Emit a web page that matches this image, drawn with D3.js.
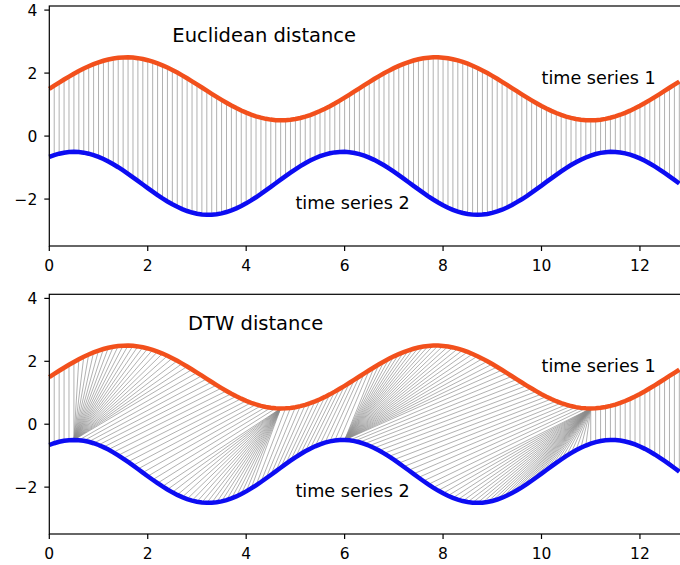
<!DOCTYPE html>
<html>
<head>
<meta charset="utf-8">
<script src="https://cdn.jsdelivr.net/npm/d3@7"></script>
<style>
  body { margin: 0; background: #fff; }
  svg { display: block; font-family: 'DejaVu Sans', sans-serif; }
</style>
</head>
<body>
<svg id="chart" width="680" height="565"></svg>
<script>
// sample positions 0 .. 12.8, step 0.1
const xs = d3.range(129).map(i => +(i / 10).toFixed(1))

const series1 = [
  1.500, 1.600, 1.699, 1.796, 1.889, 1.979, 2.065, 2.144, 2.217, 2.283,
  2.341, 2.391, 2.432, 2.464, 2.485, 2.497, 2.500, 2.492, 2.474, 2.446,
  2.409, 2.363, 2.308, 2.246, 2.176, 2.099, 2.016, 1.927, 1.835, 1.739,
  1.641, 1.542, 1.442, 1.342, 1.244, 1.149, 1.058, 0.970, 0.888, 0.812,
  0.743, 0.682, 0.628, 0.584, 0.548, 0.523, 0.506, 0.500, 0.504, 0.518,
  0.541, 0.574, 0.617, 0.668, 0.727, 0.795, 0.869, 0.949, 1.035, 1.126,
  1.221, 1.318, 1.417, 1.517, 1.617, 1.715, 1.812, 1.905, 1.994, 2.078,
  2.157, 2.229, 2.294, 2.350, 2.399, 2.438, 2.468, 2.488, 2.499, 2.499,
  2.489, 2.470, 2.441, 2.402, 2.355, 2.299, 2.234, 2.163, 2.085, 2.001,
  1.912, 1.819, 1.723, 1.625, 1.525, 1.425, 1.326, 1.228, 1.134, 1.043,
  0.956, 0.875, 0.800, 0.732, 0.672, 0.620, 0.577, 0.543, 0.519, 0.505,
  0.500, 0.505, 0.521, 0.546, 0.581, 0.625, 0.677, 0.738, 0.807, 0.882,
  0.963, 1.050, 1.142, 1.237, 1.334, 1.434, 1.534, 1.633, 1.732
]

const series2 = [
  -0.661, -0.604, -0.559, -0.527, -0.507, -0.500, -0.507, -0.526, -0.559, -0.604,
  -0.660, -0.728, -0.806, -0.894, -0.989, -1.091, -1.198, -1.310, -1.424, -1.538,
  -1.653, -1.765, -1.874, -1.978, -2.076, -2.166, -2.247, -2.318, -2.379, -2.428,
  -2.464, -2.488, -2.499, -2.497, -2.482, -2.453, -2.412, -2.359, -2.295, -2.220,
  -2.135, -2.042, -1.942, -1.837, -1.726, -1.613, -1.498, -1.384, -1.270, -1.160,
  -1.055, -0.955, -0.862, -0.778, -0.703, -0.639, -0.587, -0.546, -0.518, -0.503,
  -0.501, -0.512, -0.537, -0.574, -0.623, -0.684, -0.755, -0.837, -0.927, -1.025,
  -1.129, -1.238, -1.351, -1.465, -1.580, -1.694, -1.805, -1.913, -2.014, -2.109,
  -2.196, -2.274, -2.342, -2.398, -2.443, -2.475, -2.494, -2.500, -2.493, -2.473,
  -2.440, -2.394, -2.337, -2.268, -2.190, -2.098, -2.007, -1.905, -1.797, -1.685,
  -1.571, -1.456, -1.342, -1.230, -1.121, -1.017, -0.920, -0.830, -0.750, -0.679,
  -0.619, -0.570, -0.534, -0.511, -0.501, -0.503, -0.520, -0.549, -0.590, -0.644,
  -0.709, -0.784, -0.869, -0.962, -1.062, -1.168, -1.279, -1.392, -1.507
]

const xTicks = [0, 2, 4, 6, 8, 10, 12]
const yTicks = [-2, 0, 2, 4]

const panels = [
  { title: 'Euclidean distance', titleAt: [2.5, 3.0], mode: 'euclid', top: 6, bottom: 246 },
  { title: 'DTW distance', titleAt: [2.82, 3.0], mode: 'dtw', top: 294.3, bottom: 534 }
]
const label1At = [10, 1.66]
const label2At = [5, -2.32]

const svg = d3.select('#chart')
const left = 49.3
const x = d3.scaleLinear().domain([0, 12.9]).range([left, left + 12.9 * 49.22])

// classic DTW (squared differences) on the plotted values, returns index pairs
function dtwPath (a, b) {
  const n = a.length
  const m = b.length
  const D = []
  for (let i = 0; i < n; i++) {
    D.push(new Float64Array(m).fill(Infinity))
  }
  for (let i = 0; i < n; i++) {
    for (let j = 0; j < m; j++) {
      const c = Math.pow(a[i] - b[j], 2)
      if (i === 0 && j === 0) D[i][j] = c
      else {
        let best = Infinity
        if (i > 0) best = Math.min(best, D[i - 1][j])
        if (j > 0) best = Math.min(best, D[i][j - 1])
        if (i > 0 && j > 0) best = Math.min(best, D[i - 1][j - 1])
        D[i][j] = c + best
      }
    }
  }
  const path = [[n - 1, m - 1]]
  let i = n - 1
  let j = m - 1
  while (i > 0 || j > 0) {
    if (i === 0) j--
    else if (j === 0) i--
    else {
      const d = D[i - 1][j - 1]
      const u = D[i - 1][j]
      const l = D[i][j - 1]
      if (d <= u && d <= l) { i--; j-- } else if (u <= l) i--
      else j--
    }
    path.push([i, j])
  }
  return path.reverse()
}

panels.forEach(p => {
  const y = d3.scaleLinear().domain([-3.49, 4.13]).range([p.bottom, p.top])
  const g = svg.append('g')

  let pairs
  if (p.mode === 'euclid') pairs = xs.map((d, i) => [i, i])
  else pairs = dtwPath(series1, series2)

  g.append('g')
    .selectAll('line')
    .data(pairs)
    .enter()
    .append('line')
    .attr('x1', d => x(xs[d[0]]))
    .attr('y1', d => y(series1[d[0]]))
    .attr('x2', d => x(xs[d[1]]))
    .attr('y2', d => y(series2[d[1]]))
    .attr('stroke', '#8a8a8a')
    .attr('stroke-opacity', 0.75)
    .attr('stroke-width', 0.9)

  const line = d3.line().x((d, i) => x(xs[i])).y(d => y(d))
  g.append('path')
    .attr('d', line(series1))
    .attr('fill', 'none')
    .attr('stroke', '#f2501c')
    .attr('stroke-width', 4.5)
  g.append('path')
    .attr('d', line(series2))
    .attr('fill', 'none')
    .attr('stroke', '#0c0cf2')
    .attr('stroke-width', 4.5)

  // frame (right side lies outside the picture)
  g.append('rect')
    .attr('x', left)
    .attr('y', p.top)
    .attr('width', x(12.9) - left)
    .attr('height', p.bottom - p.top)
    .attr('fill', 'none')
    .attr('stroke', '#000')
    .attr('stroke-width', 1.2)

  const xAxis = g.append('g')
  xTicks.forEach(t => {
    xAxis.append('line')
      .attr('x1', x(t)).attr('x2', x(t))
      .attr('y1', p.bottom).attr('y2', p.bottom + 5)
      .attr('stroke', '#000').attr('stroke-width', 1.2)
    xAxis.append('text')
      .attr('x', x(t))
      .attr('y', p.bottom + 24.5)
      .attr('text-anchor', 'middle')
      .attr('font-size', '15.5px')
      .text(t)
  })
  const yAxis = g.append('g')
  yTicks.forEach(t => {
    yAxis.append('line')
      .attr('x1', left - 5).attr('x2', left)
      .attr('y1', y(t)).attr('y2', y(t))
      .attr('stroke', '#000').attr('stroke-width', 1.2)
    yAxis.append('text')
      .attr('x', left - 12)
      .attr('y', y(t) + 5.6)
      .attr('text-anchor', 'end')
      .attr('font-size', '15.5px')
      .text(t < 0 ? '\u2212' + Math.abs(t) : t)
  })

  const labels = [
    { text: p.title, at: p.titleAt, size: '19.5px' },
    { text: 'time series 1', at: label1At, size: '17.6px' },
    { text: 'time series 2', at: label2At, size: '17.6px' }
  ]
  g.selectAll('text.lbl')
    .data(labels)
    .enter()
    .append('text')
    .attr('class', 'lbl')
    .attr('x', d => x(d.at[0]))
    .attr('y', d => y(d.at[1]))
    .attr('font-size', d => d.size)
    .text(d => d.text)
})
</script>
</body>
</html>
